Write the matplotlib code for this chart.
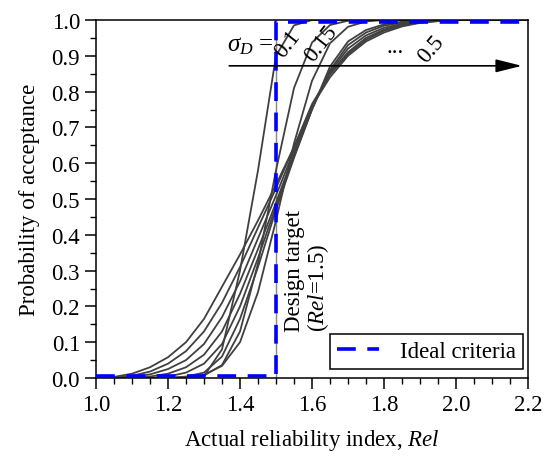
import matplotlib
matplotlib.use("Agg")
import matplotlib.pyplot as plt
from matplotlib.ticker import MultipleLocator

plt.rcParams['font.family'] = ['Liberation Serif', 'DejaVu Serif']
plt.rcParams['mathtext.fontset'] = 'custom'
plt.rcParams['mathtext.rm'] = 'Liberation Serif'
plt.rcParams['mathtext.it'] = 'Liberation Serif:italic'

x = [1.00, 1.05, 1.10, 1.15, 1.20, 1.25, 1.30, 1.35, 1.40, 1.45, 1.50, 1.55, 1.60,
     1.65, 1.70, 1.75, 1.80, 1.85, 1.90, 1.95, 2.00, 2.05, 2.10, 2.15, 2.20]

p_010 = [0, 0, 0, 0, 0, 0, 0.005, 0.08, 0.30, 0.58, 0.90, 0.985, 1.0,
         1, 1, 1, 1, 1, 1, 1, 1, 1, 1, 1, 1]
p_015 = [0, 0, 0, 0, 0, 0.002, 0.007, 0.036, 0.13, 0.32, 0.58, 0.81, 0.937,
         0.986, 0.998, 1, 1, 1, 1, 1, 1, 1, 1, 1, 1]
p_020 = [0, 0, 0, 0, 0, 0.002, 0.009, 0.034, 0.10, 0.24, 0.44, 0.655, 0.83,
         0.935, 0.981, 0.996, 1, 1, 1, 1, 1, 1, 1, 1, 1]
p_025 = [0, 0, 0, 0, 0, 0.004, 0.015, 0.06, 0.165, 0.31, 0.47, 0.615, 0.75,
         0.87, 0.94, 0.972, 0.988, 0.995, 1, 1, 1, 1, 1, 1, 1]
p_030 = [0, 0, 0, 0, 0.004, 0.015, 0.04, 0.095, 0.20, 0.335, 0.48, 0.62, 0.75,
         0.86, 0.93, 0.965, 0.984, 0.993, 0.997, 1, 1, 1, 1, 1, 1]
p_035 = [0, 0, 0, 0.004, 0.012, 0.03, 0.065, 0.13, 0.235, 0.36, 0.49, 0.625, 0.755,
         0.855, 0.92, 0.957, 0.978, 0.99, 0.996, 1, 1, 1, 1, 1, 1]
p_040 = [0, 0, 0.003, 0.01, 0.025, 0.05, 0.095, 0.17, 0.27, 0.39, 0.51, 0.635, 0.76,
         0.85, 0.91, 0.95, 0.973, 0.987, 0.994, 0.998, 1, 1, 1, 1, 1]
p_045 = [0, 0.001, 0.006, 0.018, 0.04, 0.075, 0.13, 0.21, 0.31, 0.42, 0.53, 0.645, 0.765,
         0.848, 0.905, 0.945, 0.97, 0.985, 0.993, 0.997, 1, 1, 1, 1, 1]
p_050 = [0, 0.003, 0.012, 0.03, 0.058, 0.10, 0.165, 0.255, 0.345, 0.44, 0.54, 0.645, 0.76,
         0.84, 0.90, 0.94, 0.965, 0.982, 0.992, 0.997, 1, 1, 1, 1, 1]
curves = [p_010, p_015, p_020, p_025, p_030, p_035, p_040, p_045, p_050]

ideal_x = [1.0, 1.5, 1.5, 2.2]
ideal_y = [0.005, 0.005, 0.995, 0.995]
target_x = [1.5, 1.5]
target_y = [0.0, 1.0]

arrow_start = (1.37, 0.872)
arrow_end = (2.183, 0.872)

fig = plt.figure(figsize=(5.44, 4.60), dpi=100)
ax = fig.add_axes([96/544, 1-379/460, (528-96)/544, (379-21)/460])

ax.plot(target_x, target_y, color='#888888', lw=1.0, zorder=1)
for c in curves:
    ax.plot(x, c, color='#404040', lw=1.3, zorder=2)
ax.plot(ideal_x, ideal_y, color='#0000FF', lw=2.6, dashes=(5.2, 3.2),
        label='Ideal criteria', zorder=3)

ax.annotate('', xy=arrow_end, xytext=arrow_start,
            arrowprops=dict(arrowstyle='-|>,head_length=1.6,head_width=0.4',
                            color='black', lw=1.2, shrinkA=0, shrinkB=0))

fs = 16.5
ax.text(1.365, 0.93, r'$\sigma_D$ =', fontsize=fs + 1.5, ha='left', va='center')
ax.text(1.532, 0.935, '0.1', fontsize=fs, rotation=52, ha='center', va='center')
ax.text(1.625, 0.935, '0.15', fontsize=fs, rotation=52, ha='center', va='center')
ax.text(1.83, 0.925, '...', fontsize=fs, ha='center', va='center')
ax.text(1.93, 0.92, '0.5', fontsize=fs, rotation=50, ha='center', va='center')
ax.text(1.522, 0.132, 'Design target\n(' + r'$Rel$' + '=1.5)', fontsize=fs,
        rotation=90, ha='left', va='bottom', multialignment='left',
        linespacing=1.0)

ax.set_xlim(1.0, 2.2)
ax.set_ylim(0.0, 1.0)
ax.xaxis.set_major_locator(MultipleLocator(0.2))
ax.xaxis.set_minor_locator(MultipleLocator(0.05))
ax.yaxis.set_major_locator(MultipleLocator(0.1))
ax.yaxis.set_minor_locator(MultipleLocator(0.05))
ax.xaxis.set_major_formatter(matplotlib.ticker.FormatStrFormatter('%.1f'))
ax.yaxis.set_major_formatter(matplotlib.ticker.FormatStrFormatter('%.1f'))
ax.tick_params(which='major', direction='out', length=8, width=1.1, labelsize=fs)
ax.tick_params(which='minor', direction='out', length=4, width=1.0)
for s in ax.spines.values():
    s.set_linewidth(1.1)

ax.set_xlabel('Actual reliability index, ' + r'$Rel$', fontsize=fs, labelpad=9)
ax.set_ylabel('Probability of acceptance', fontsize=fs, labelpad=8)

leg = ax.legend(loc='lower right', bbox_to_anchor=(0.988, 0.025), fontsize=fs,
                frameon=True, fancybox=False, edgecolor='black', framealpha=1,
                handlelength=1.85, borderpad=0.3, borderaxespad=0,
                handletextpad=0.9)
leg.get_frame().set_linewidth(1.1)

fig.savefig('out.png', dpi=100)
